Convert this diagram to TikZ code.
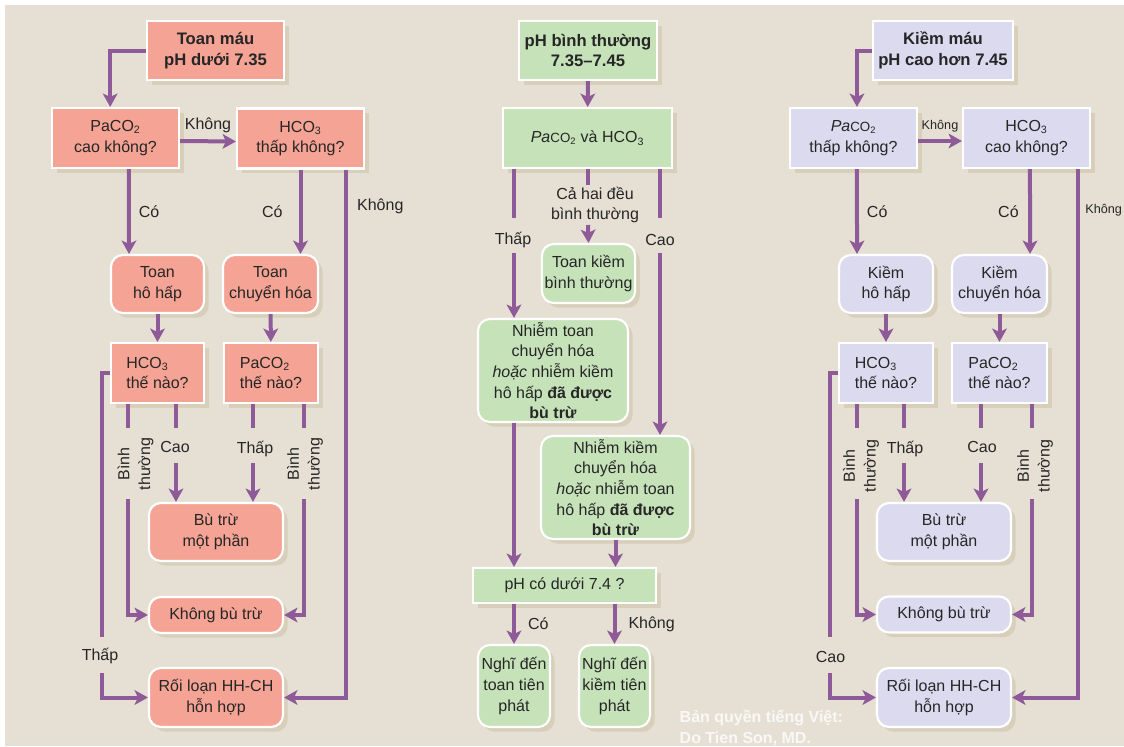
\documentclass[tikz,border=0pt]{standalone}
\usepackage{fontspec}
\setmainfont{Liberation Sans}
\usetikzlibrary{
  arrows.meta,
  shadows
}
\definecolor{ink}{HTML}{262626}
\definecolor{paper}{HTML}{E6DFD4}
\definecolor{shade}{HTML}{D8CFBB}
\definecolor{flowc}{HTML}{8E5B98}
\definecolor{acidfill}{HTML}{F5A394}
\definecolor{normfill}{HTML}{C6E2B9}
\definecolor{alkfill}{HTML}{DCDAEE}
\newcommand{\pacotwo}{\textit{Pa}{\fontsize{10}{10}\selectfont CO\textsubscript{2}}}

\begin{document}
\begin{tikzpicture}[
  x=0.75pt,
  y=-0.75pt,
  font=\fontsize{12}{15.5}\selectfont,
  box/.style={
    draw=white,
    line width=1.6pt,
    align=center,
    inner sep=2pt,
    text=ink,
    drop shadow={shadow xshift=3.5pt, shadow yshift=-3.5pt, fill=shade, opacity=1}
  },
  rbox/.style={
    box,
    rounded corners=9pt
  },
  titlebox/.style={
    box,
    font=\bfseries\fontsize{12.5}{15.5}\selectfont
  },
  lbl/.style={
    text=ink,
    inner sep=1pt
  },
  smalllbl/.style={
    lbl,
    font=\fontsize{9.5}{11}\selectfont
  },
  line/.style={
    draw=flowc,
    line width=3pt
  },
  flow/.style={
    line,
    -{Stealth[length=10pt, width=11pt, inset=2.5pt]}
  }
]
\useasboundingbox (0,0) rectangle (1124,746);
\fill[white] (0,0) rectangle (1124,746);
\fill[paper] (5,5) rectangle (1124,746);

% Acidosis column
\node[titlebox, fill=acidfill, minimum width=102.75pt, minimum height=44.25pt] (acid) at (215.5,50.5) {Toan máu\\pH dưới 7.35};
\node[box, fill=acidfill, minimum width=95.25pt, minimum height=45pt] (lpco) at (115.5,138) {PaCO\textsubscript{2}\\cao không?};
\node[box, fill=acidfill, minimum width=95.25pt, minimum height=45pt] (lhco) at (300.5,138.5) {HCO\textsubscript{3}\\thấp không?};
\node[rbox, fill=acidfill, minimum width=69.75pt, minimum height=43.5pt] (resp) at (157.5,284) {Toan\\hô hấp};
\node[rbox, fill=acidfill, minimum width=71.25pt, minimum height=43.5pt] (meta) at (270.5,284) {Toan\\chuyển hóa};
\node[box, fill=acidfill, align=left, minimum width=69.75pt, minimum height=45pt] (lhq) at (157.5,373) {HCO\textsubscript{3}\\thế nào?};
\node[box, fill=acidfill, align=left, minimum width=70.5pt, minimum height=45pt] (lpq) at (271,373) {PaCO\textsubscript{2}\\thế nào?};
\node[rbox, fill=acidfill, minimum width=100.5pt, minimum height=43.5pt] (lpart) at (216,532) {Bù trừ\\một phần};
\node[rbox, fill=acidfill, minimum width=100.5pt, minimum height=27pt] (lnone) at (216,615) {Không bù trừ};
\node[rbox, fill=acidfill, minimum width=100.5pt, minimum height=44.25pt] (lmix) at (216,697.5) {Rối loạn HH-CH\\hỗn hợp};

% Normal pH column
\node[titlebox, fill=normfill, minimum width=103.5pt, minimum height=44.25pt] (norm) at (588,50.5) {pH bình thường\\7.35--7.45};
\node[box, fill=normfill, minimum width=126.75pt, minimum height=45pt] (both) at (587.5,138) {\pacotwo{} và HCO\textsubscript{3}};
\node[rbox, fill=normfill, minimum width=69.75pt, minimum height=44.25pt] (tkbt) at (588.5,273.5) {Toan kiềm\\bình thường};
\node[rbox, fill=normfill, minimum width=112.5pt, minimum height=77.25pt] (ntoan) at (553,370.5) {Nhiễm toan\\chuyển hóa\\\textit{hoặc} nhiễm kiềm\\hô hấp \textbf{đã được}\\\textbf{bù trừ}};
\node[rbox, fill=normfill, minimum width=111.75pt, minimum height=77.25pt] (nkiem) at (615.5,487.5) {Nhiễm kiềm\\chuyển hóa\\\textit{hoặc} nhiễm toan\\hô hấp \textbf{đã được}\\\textbf{bù trừ}};
\node[box, fill=normfill, minimum width=137.25pt, minimum height=26.25pt] (phq) at (564.5,585.5) {pH có dưới 7.4 ?};
\node[rbox, fill=normfill, minimum width=54pt, minimum height=61.5pt] (ptoan) at (514,686) {Nghĩ đến\\toan tiên\\phát};
\node[rbox, fill=normfill, minimum width=53.25pt, minimum height=61.5pt] (pkiem) at (614.5,686) {Nghĩ đến\\kiềm tiên\\phát};

% Alkalosis column
\node[titlebox, fill=alkfill, minimum width=105pt, minimum height=44.25pt] (alk) at (943,50.5) {Kiềm máu\\pH cao hơn 7.45};
\node[box, fill=alkfill, minimum width=95.25pt, minimum height=45pt] (rpco) at (853.5,138) {\pacotwo\\thấp không?};
\node[box, fill=alkfill, minimum width=95.25pt, minimum height=45pt] (rhco) at (1026.5,138) {HCO\textsubscript{3}\\cao không?};
\node[rbox, fill=alkfill, minimum width=70.5pt, minimum height=43.5pt] (rresp) at (886,284) {Kiềm\\hô hấp};
\node[rbox, fill=alkfill, minimum width=71.25pt, minimum height=43.5pt] (rmeta) at (999.5,284) {Kiềm\\chuyển hóa};
\node[box, fill=alkfill, align=left, minimum width=70.5pt, minimum height=45pt] (rhq) at (886,373) {HCO\textsubscript{3}\\thế nào?};
\node[box, fill=alkfill, align=left, minimum width=71.25pt, minimum height=45pt] (rpq) at (999.5,373) {PaCO\textsubscript{2}\\thế nào?};
\node[rbox, fill=alkfill, minimum width=100.5pt, minimum height=43.5pt] (rpart) at (944,532) {Bù trừ\\một phần};
\node[rbox, fill=alkfill, minimum width=100.5pt, minimum height=27pt] (rnone) at (944,614.5) {Không bù trừ};
\node[rbox, fill=alkfill, minimum width=100.5pt, minimum height=44.25pt] (rmix) at (944,697.5) {Rối loạn HH-CH\\hỗn hợp};

% Gap ends of the labelled branches
\coordinate (lbn1) at (128,428);  \coordinate (lbn2) at (128,499);
\coordinate (lca1) at (176,428);  \coordinate (lca2) at (176,463);
\coordinate (lth1) at (253,428);  \coordinate (lth2) at (253,463);
\coordinate (lbr1) at (304,428);  \coordinate (lbr2) at (304,499);
\coordinate (lt1) at (102,637);   \coordinate (lt2) at (102,673);
\coordinate (mt1) at (514,218);   \coordinate (mt2) at (514,253);
\coordinate (mm1) at (588,185);   \coordinate (mm2) at (588,225);
\coordinate (mc1) at (660,218);   \coordinate (mc2) at (660,253);
\coordinate (rbn1) at (857,428);  \coordinate (rbn2) at (857,499);
\coordinate (rth1) at (904,428);  \coordinate (rth2) at (904,463);
\coordinate (rca1) at (981,428);  \coordinate (rca2) at (981,463);
\coordinate (rbr1) at (1032,428); \coordinate (rbr2) at (1032,499);
\coordinate (rc1) at (830,637);   \coordinate (rc2) at (830,673);

% Branch labels
\node[lbl, rotate=90, align=center] (lbnl) at (135.5,464) {Bình\\thường};
\node[lbl] (lcal) at (175,447) {Cao};
\node[lbl] (lthl) at (255,449) {Thấp};
\node[lbl, rotate=90, align=center] (lbrl) at (305,464) {Bình\\thường};
\node[lbl] (ltl) at (100,656) {Thấp};
\node[lbl] (mtl) at (513,240) {Thấp};
\node[lbl, align=center] (mml) at (595,205) {Cả hai đều\\bình thường};
\node[lbl] (mcl) at (660,240) {Cao};
\node[lbl, rotate=90, align=center] (rbnl) at (861,466) {Bình\\thường};
\node[lbl] (rthl) at (905,449) {Thấp};
\node[lbl] (rcal) at (982,447) {Cao};
\node[lbl, rotate=90, align=center] (rbrl) at (1035,466) {Bình\\thường};
\node[lbl] (rcl) at (830.5,657) {Cao};

% Acidosis flow
\draw[flow] (acid.west) -| ([xshift=-4pt]lpco.north);
\draw[flow] ([yshift=-2.25pt]lpco.east) -- ([yshift=-2.25pt]lhco.west) node[lbl, midway, above=4pt] {Không};
\draw[flow] ([xshift=10pt]lpco.south) -- ([xshift=-21.4pt]resp.north) node[lbl, midway, right=5pt] {Có};
\draw[flow] (lhco.south) -- (lhco.south |- meta.north) node[lbl, midway, left=11pt] {Có};
\draw[flow] ([xshift=34pt]lhco.south) |- (lmix.east) node[lbl, pos=0.035, right=6pt] {Không};
\draw[flow] (resp) -- (lhq);
\draw[flow] (meta) -- (lpq);
\draw[line] (lhq.south -| lbn1) -- (lbn1);
\draw[flow] (lbn2) |- (lnone.west);
\draw[line] (lhq.south -| lca1) -- (lca1);
\draw[flow] (lca2) -- (lca2 |- lpart.north);
\draw[line] (lpq.south -| lth1) -- (lth1);
\draw[flow] (lth2) -- (lth2 |- lpart.north);
\draw[line] (lpq.south -| lbr1) -- (lbr1);
\draw[flow] (lbr2) |- (lnone.east);
\draw[line] (lhq.west) -| (lt1);
\draw[flow] (lt2) |- (lmix.west);

% Normal pH flow
\draw[flow] (norm) -- (both);
\draw[line] (both.south -| mt1) -- (mt1);
\draw[flow] (mt2) -- (mt2 |- ntoan.north);
\draw[line] (both.south -| mm1) -- (mm1);
\draw[flow] (mm2) -- (tkbt.north);
\draw[line] (both.south -| mc1) -- (mc1);
\draw[flow] (mc2) -- (mc2 |- nkiem.north);
\draw[flow] (ntoan.south -| mt1) -- (phq.north -| mt1);
\draw[flow] (nkiem.south) -- (nkiem.south |- phq.north);
\draw[flow] (phq.south -| ptoan) -- (ptoan) node[lbl, midway, right=8pt] {Có};
\draw[flow] (phq.south -| pkiem) -- (pkiem) node[lbl, midway, right=8pt] {Không};

% Alkalosis flow
\draw[flow] (alk.west) -| ([xshift=2.6pt]rpco.north);
\draw[flow] ([yshift=-2.25pt]rpco.east) -- ([yshift=-2.25pt]rhco.west) node[smalllbl, midway, above=4pt] {Không};
\draw[flow] ([xshift=2.6pt]rpco.south) -- ([xshift=-21.75pt]rresp.north) node[lbl, midway, right=5pt] {Có};
\draw[flow] ([xshift=2.6pt]rhco.south) -- ([xshift=22.9pt]rmeta.north) node[lbl, midway, left=6pt] {Có};
\draw[flow] ([xshift=38.6pt]rhco.south) |- (rmix.east) node[smalllbl, pos=0.039, right=3pt] {Không};
\draw[flow] (rresp) -- (rhq);
\draw[flow] (rmeta) -- (rpq);
\draw[line] (rhq.south -| rbn1) -- (rbn1);
\draw[flow] (rbn2) |- (rnone.west);
\draw[line] (rhq.south -| rth1) -- (rth1);
\draw[flow] (rth2) -- (rth2 |- rpart.north);
\draw[line] (rpq.south -| rca1) -- (rca1);
\draw[flow] (rca2) -- (rca2 |- rpart.north);
\draw[line] (rpq.south -| rbr1) -- (rbr1);
\draw[flow] (rbr2) |- (rnone.east);
\draw[line] (rhq.west) -| (rc1);
\draw[flow] (rc2) |- (rmix.west);

\node[font=\bfseries\fontsize{12}{15.75}\selectfont, text=white, opacity=0.8, align=left, anchor=west] (credit) at (675,728) {Bản quyền tiếng Việt:\\Do Tien Son, MD.};
\end{tikzpicture}
\end{document}
